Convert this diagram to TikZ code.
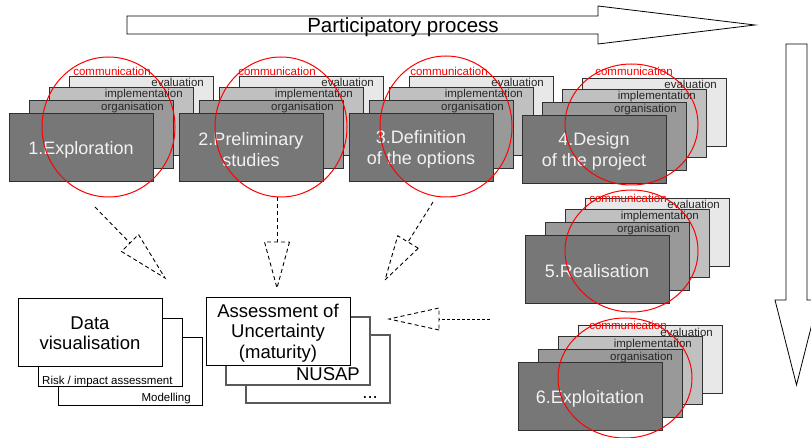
\documentclass[tikz,border=0pt]{standalone}
\usepackage{fontspec}
\setmainfont{Liberation Sans}
\usetikzlibrary{calc}

\definecolor{frontgray}{HTML}{777777}
\definecolor{orggray}{HTML}{999999}
\definecolor{implgray}{HTML}{C0C0C0}
\definecolor{evalgray}{HTML}{E8E8E8}
\definecolor{edgegray}{HTML}{303030}
\definecolor{ringred}{HTML}{FF0000}
\definecolor{fronttext}{HTML}{F2F2F2}

\tikzset{
  layerbox/.style={draw=edgegray, line width=0.8pt, minimum width=144pt,
    minimum height=68pt, inner sep=0pt, outer sep=0pt, anchor=north west},
  layerlabel/.style={font=\fontsize{11.5}{12}\selectfont, text=black!85,
    inner sep=0pt, anchor=base east},
  frontlabel/.style={font=\fontsize{18}{21}\selectfont, text=fronttext, align=center,
    yshift=-2.5pt},
  ring/.style={draw=ringred, line width=1pt},
  commlabel/.style={font=\fontsize{11.5}{12}\selectfont, text=ringred, inner sep=0pt},
  dashline/.style={draw=black, line width=0.9pt, dash pattern=on 4pt off 3pt},
  plainbox/.style={draw=black, line width=0.8pt, fill=white, minimum width=144pt,
    minimum height=68pt, inner sep=0pt, outer sep=0pt, anchor=north west},
  greybox/.style={plainbox, draw=black!65, line width=1.1pt},
  smalltext/.style={font=\fontsize{11.5}{12}\selectfont, inner sep=0pt},
  bigtext/.style={font=\fontsize{18.5}{20.5}\selectfont, inner sep=0pt, align=center},
  bigarrow/.style={draw=black, line width=0.8pt, fill=white},
}

% one phase: four stacked sheets, front sheet carries the phase title
\newcommand{\stagestack}[4]{%
  \node[layerbox, fill=evalgray] (#1e) at (#2+60,#3-37) {};
  \node[layerlabel] (#1el) at ($(#1e.north east)+(-9,11)$) {evaluation};
  \node[layerbox, fill=implgray] (#1i) at (#2+40,#3-26) {};
  \node[layerlabel] (#1il) at ($(#1i.north east)+(-10,11)$) {implementation};
  \node[layerbox, fill=orggray] (#1o) at (#2+20,#3-13) {};
  \node[layerlabel] (#1ol) at ($(#1o.north east)+(-9,11)$) {organisation};
  \node[layerbox, fill=frontgray] (#1f) at (#2,#3) {};
  \node[frontlabel] (#1t) at (#1f.center) {#4};
}

% red communication ring over a phase
\newcommand{\commring}[7]{%
  \draw[ring] (#2,#3) ellipse [x radius=#4pt, y radius=#5pt];
  \node[commlabel] (#1c) at (#6,#7) {communication};
}

% dashed arrow with a hollow triangular head
\newcommand{\hollowarrow}[6]{%
  \coordinate (#1s) at #2;
  \coordinate (#1b) at #3;
  \coordinate (#1p) at #4;
  \draw[dashline, #6] (#1s) -- (#1b);
  \draw[dashline] ($(#1b)!#5!90:(#1p)$) -- (#1p) -- ($(#1b)!#5!-90:(#1p)$) -- cycle;
}

\begin{document}
\begin{tikzpicture}[x=1pt, y=-1pt]
\clip (0,0) rectangle (811,438);
\fill[white] (0,0) rectangle (811,438);

% participatory process arrow
\draw[bigarrow] (127,16) -- (598,16) -- (598,6) -- (755,25) -- (598,44)
  -- (598,34) -- (127,34) -- cycle;
\node[font=\fontsize{20.5}{22}\selectfont, inner sep=0pt, anchor=base] (pp) at (403,33)
  {Participatory process};

% downward time arrow
\draw[bigarrow] (786,44) -- (807,44) -- (807,300) -- (818,300) -- (796.5,385)
  -- (775,300) -- (786,300) -- cycle;

% phases
\stagestack{sa}{9}{113}{1.Exploration}
\stagestack{sb}{179}{113}{2.Preliminary\\studies}
\stagestack{sc}{349}{113}{3.Definition\\of the options}
\stagestack{sd}{522}{115}{4.Design\\of the project}
\stagestack{se}{525}{235}{5.Realisation}
\stagestack{sf}{518}{362}{6.Exploitation}

\commring{ra}{108.5}{127}{66.5}{70}{112}{71}
\commring{rb}{281}{127}{66}{70}{277}{71}
\commring{rc}{446}{126.5}{66}{70.5}{449}{71}
\commring{rd}{631.5}{124.5}{66.5}{60.5}{634}{71}
\commring{re}{631.5}{251}{66.5}{61}{628}{198}
\commring{rf}{625}{378}{67}{60}{628}{325}

% dashed links towards the tools
\hollowarrow{aa}{(95,207)}{(130,243)}{(165,278)}{12pt}{}
\hollowarrow{ab}{(277,197)}{(277,242)}{(277,288)}{12.5pt}{}
\hollowarrow{ac}{(433,202)}{(408,242)}{(385,280)}{12pt}{}
\hollowarrow{ad}{(490,319)}{(439,319)}{(389,319)}{11pt}{dash pattern=on 3pt off 2pt}

% data visualisation stack
\node[plainbox] (mod) at (58,337) {};
\node[smalltext, anchor=base east] (modl) at (191,401) {Modelling};
\node[plainbox] (risk) at (38,318) {};
\node[smalltext, anchor=base west] (riskl) at (42,384) {Risk / impact assessment};
\node[plainbox] (dv) at (18,298) {};
\node[bigtext, yshift=-1pt] (dvl) at (dv.center) {Data\\visualisation};

% uncertainty stack
\node[greybox] (more) at (246,335) {};
\node[bigtext, anchor=base east] (morel) at (378,398) {...};
\node[greybox] (nusap) at (226,317) {};
\node[bigtext, anchor=base east] (nusapl) at (360,380) {NUSAP};
\node[plainbox] (unc) at (206,297) {};
\node[bigtext, yshift=-2pt] (uncl) at (unc.center) {Assessment of\\Uncertainty\\(maturity)};
\end{tikzpicture}
\end{document}
